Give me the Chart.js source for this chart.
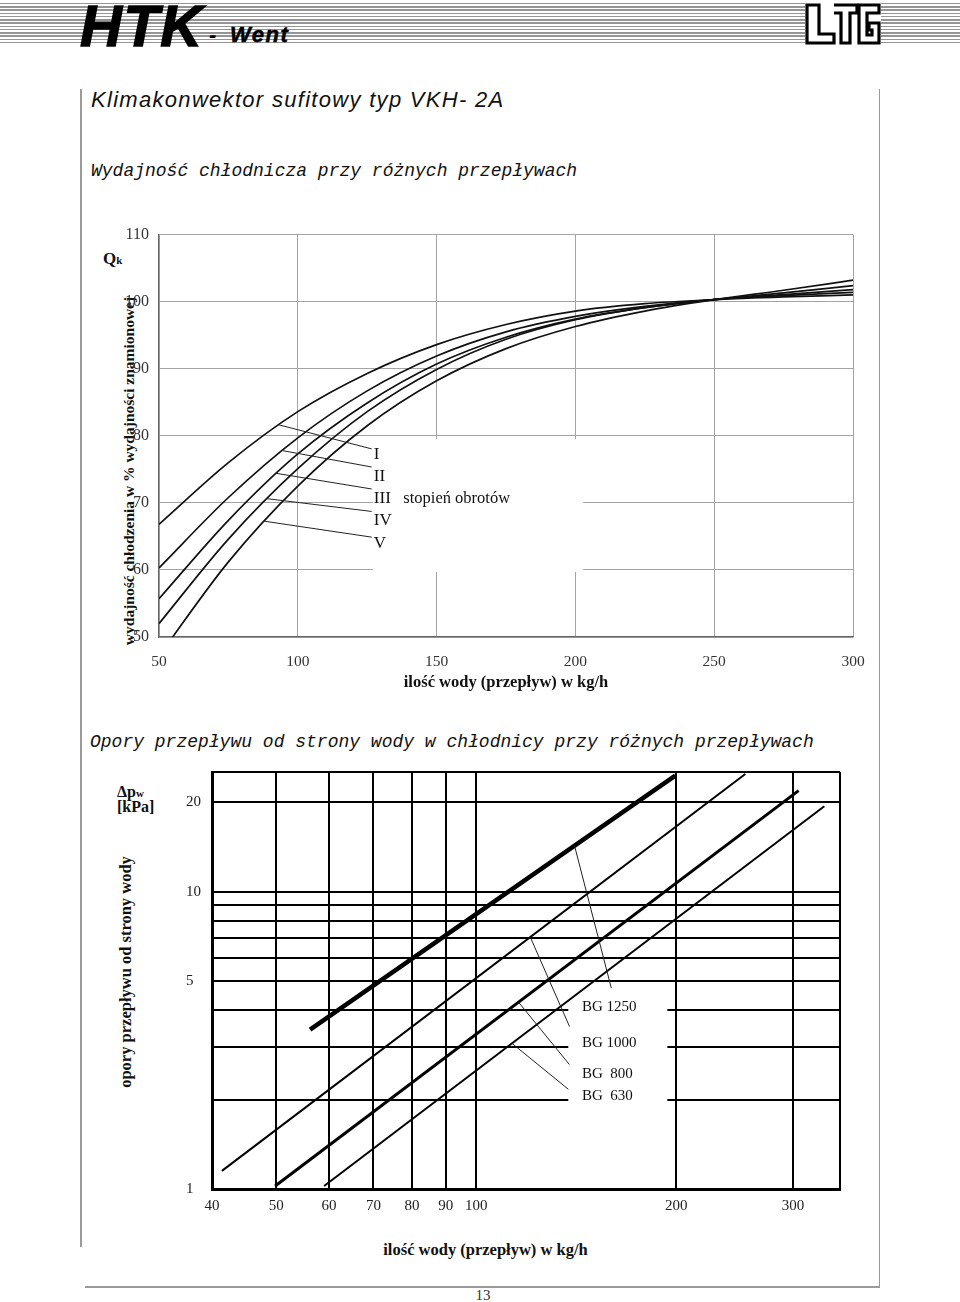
<!DOCTYPE html>
<html><head><meta charset="utf-8">
<script src="https://cdn.jsdelivr.net/npm/chart.js@4/dist/chart.umd.min.js"></script>
<style>
html,body{margin:0;padding:0;background:#fff;}
body{width:960px;height:1302px;position:relative;overflow:hidden;font-family:"Liberation Serif",serif;color:#111;}
.abs{position:absolute;white-space:nowrap;line-height:1;}
#stripes{position:absolute;left:0;top:3px;width:960px;height:42px;
 background:repeating-linear-gradient(180deg,#959595 0px,#959595 1.4px,#fff 1.4px,#fff 3.25px);}
.line{position:absolute;background:#9a9a9a;}
canvas{position:absolute;}
.rot{position:absolute;white-space:nowrap;line-height:1;transform:translate(-50%,-50%) rotate(-90deg);font-weight:bold;}
</style></head>
<body>
<div id="stripes"></div>
<div class="abs" style="left:80px;top:-8px;font:italic bold 58px 'Liberation Sans';letter-spacing:1.5px;-webkit-text-stroke:1.4px #000;color:#000;">HTK</div>
<div class="abs" style="left:209px;top:22px;font:italic bold 22px 'Liberation Sans';color:#000;">-</div>
<div class="abs" style="left:230px;top:22px;font:italic bold 22px 'Liberation Sans';letter-spacing:1.5px;-webkit-text-stroke:0.5px #000;color:#000;">Went</div>
<svg style="position:absolute;left:805px;top:3px" width="76" height="42" viewBox="0 0 76 42">
 <rect x="0" y="0" width="76" height="42" fill="#fff"/>
 <g fill="none" stroke="#000" stroke-width="3.2">
  <path d="M2,2 H14 V31 H29 V40 H2 Z"/>
  <path d="M29,2 H52 V10 H45 V40 H36 V10 H29"/>
  <path d="M54,2 H74 V10 H62 V32 H67 V27 H64 V20 H74 V40 H54 Z"/>
 </g>
</svg>

<div class="line" style="left:80px;top:89px;width:1.5px;height:1158px;"></div>
<div class="line" style="left:878.5px;top:89px;width:1.5px;height:1198px;"></div>
<div class="line" style="left:85px;top:1286px;width:795px;height:1.5px;"></div>

<div class="abs" style="left:91px;top:87.4px;font:italic 22px 'Liberation Sans';letter-spacing:1.3px;">Klimakonwektor sufitowy typ VKH- 2A</div>
<div class="abs" style="left:91px;top:161px;font:italic 18px 'Liberation Mono';">Wydajność chłodnicza przy różnych przepływach</div>
<div class="abs" style="left:90px;top:732px;font:italic 18px 'Liberation Mono';">Opory przepływu od strony wody w chłodnicy przy różnych przepływach</div>

<div class="abs" style="left:103px;top:249px;font:bold 17px 'Liberation Serif';">Q<span style="font-size:11px;">k</span></div>
<div class="rot" id="ytitle1" style="left:128.8px;top:471px;font-size:15.5px;"></div>

<div class="abs" style="left:117px;top:782.6px;font:bold 16px 'Liberation Serif';">Δp<span style="font-size:11px;">w</span></div>
<div class="abs" style="left:117px;top:797.6px;font:bold 16px 'Liberation Serif';">[kPa]</div>
<div class="rot" id="ytitle2" style="left:125.5px;top:971.5px;font-size:16.5px;"></div>
<div class="abs" id="xtitle2" style="left:485.5px;top:1239.7px;font:bold 16.5px 'Liberation Serif';transform:translateX(-50%);"></div>

<div class="abs" style="left:483px;top:1287.4px;font:15px 'Liberation Serif';transform:translateX(-50%);color:#333;">13</div>

<canvas id="c1" width="800" height="490" style="left:85px;top:215px;"></canvas>
<canvas id="c2" width="800" height="510" style="left:85px;top:755px;"></canvas>

<script>
// ---------- Chart 1 data: cooling capacity vs. water flow ----------
const flowX    = [50, 75, 100, 125, 150, 175, 200, 225, 250, 275, 300];
const stageI   = [66.8, 76.0, 83.6, 89.3, 93.6, 96.6, 98.6, 99.7, 100.3, 100.7, 101.0];
const stageII  = [60.3, 70.8, 79.7, 86.7, 91.9, 95.5, 97.8, 99.3, 100.3, 100.9, 101.4];
const stageIII = [55.7, 67.4, 77.3, 84.9, 90.7, 94.7, 97.4, 99.1, 100.3, 101.05, 101.8];
const stageIV  = [52.0, 64.6, 75.1, 83.6, 89.9, 94.4, 97.3, 99.1, 100.3, 101.3, 102.4];
const stageV   = [47.2, 61.2, 72.5, 81.5, 88.2, 93.0, 96.3, 98.6, 100.3, 101.7, 103.2];
const stageNames = ['I', 'II', 'III', 'IV', 'V'];
const stageNote = 'stopień obrotów';
const x1Ticks = [50, 100, 150, 200, 250, 300];
const y1Ticks = [50, 60, 70, 80, 90, 100, 110];
const xTitle = 'ilość wody (przepływ) w kg/h';
const yTitle1 = 'wydajność chłodzenia w % wydajności znamionowej';

// ---------- Chart 2 data: water-side pressure drop (log-log) ----------
const bgNames = ['BG 1250', 'BG 1000', 'BG  800', 'BG  630'];
const bg1250Flow = [56.2, 199.4];  const bg1250Dp = [3.44, 24.6];
const bg1000Flow = [41.4, 254.2];  const bg1000Dp = [1.151, 24.9];
const bg800Flow  = [49.8, 305.8];  const bg800Dp  = [1.023, 21.9];
const bg630Flow  = [59.0, 334.3];  const bg630Dp  = [1.023, 19.4];
const x2Ticks = [40, 50, 60, 70, 80, 90, 100, 200, 300];
const y2Grid = [1, 2, 3, 4, 5, 6, 7, 8, 9, 10, 20];
const y2Labels = [1, 5, 10, 20];
const yTitle2 = 'opory przepływu od strony wody';

document.getElementById('ytitle1').textContent = yTitle1;
document.getElementById('ytitle2').textContent = yTitle2;
document.getElementById('xtitle2').textContent = xTitle;

Chart.defaults.font.family = "'Liberation Serif', serif";
Chart.defaults.animation = false;

// ---- annotation layout (data coordinates) ----
const layout1 = {
  fromX: [93.0, 94.2, 92.1, 88.8, 87.8],
  toX: 126.6, toY: [78.05, 75.35, 72.07, 68.72, 64.89],
  textX: 127.4, textY: [76.58, 73.29, 69.94, 66.66, 63.31],
  noteX: 138.0,
  box: {x0: 127.1, x1: 202.8, y0: 79.5, y1: 59.7}
};
const layout2 = {
  fromX: [140.6, 120.6, 115.8, 113.2],
  toX: [159.7, 138.2, 138.1, 137.6], toY: [4.75, 3.52, 2.624, 2.166],
  textX: 144.3, textY: [3.972, 2.997, 2.368, 1.991],
  box: {x0: 137.6, x1: 194, y0: 4.61, y1: 1.905}
};

function curveYAt(chart, dsIndex, px) {
  const pts = chart.getDatasetMeta(dsIndex).data;
  for (let i = 0; i < pts.length - 1; i++) {
    const a = pts[i], b = pts[i + 1];
    if (px >= a.x && px <= b.x) {
      // sample the rendered bezier segment between the two points
      const c1x = a.cp2x, c1y = a.cp2y, c2x = b.cp1x, c2y = b.cp1y;
      let best = a.y, bestD = 1e9;
      for (let k = 0; k <= 200; k++) {
        const t = k / 200, u = 1 - t;
        const bx = u*u*u*a.x + 3*u*u*t*c1x + 3*u*t*t*c2x + t*t*t*b.x;
        const by = u*u*u*a.y + 3*u*u*t*c1y + 3*u*t*t*c2y + t*t*t*b.y;
        const d = Math.abs(bx - px);
        if (d < bestD) { bestD = d; best = by; }
      }
      return best;
    }
  }
  return pts[0].y;
}

const labels1Plugin = {
  id: 'labels1',
  beforeDatasetsDraw(chart) {
    const {ctx, scales: {x, y}} = chart, b = layout1.box;
    ctx.save(); ctx.fillStyle = '#fff';
    const x0 = x.getPixelForValue(b.x0), x1 = x.getPixelForValue(b.x1);
    const y0 = y.getPixelForValue(b.y0), y1 = y.getPixelForValue(b.y1);
    ctx.fillRect(x0, y0, x1 - x0, y1 - y0); ctx.restore();
  },
  afterDatasetsDraw(chart) {
    const {ctx, scales: {x, y}} = chart;
    ctx.save();
    ctx.strokeStyle = '#222'; ctx.lineWidth = 1;
    stageNames.forEach((n, i) => {
      const fx = x.getPixelForValue(layout1.fromX[i]);
      const fy = curveYAt(chart, i, fx);
      ctx.beginPath(); ctx.moveTo(fx, fy);
      ctx.lineTo(x.getPixelForValue(layout1.toX), y.getPixelForValue(layout1.toY[i])); ctx.stroke();
    });
    ctx.fillStyle = '#111'; ctx.textBaseline = 'alphabetic'; ctx.textAlign = 'left';
    ctx.font = "17px 'Liberation Serif'";
    stageNames.forEach((n, i) => ctx.fillText(n, x.getPixelForValue(layout1.textX), y.getPixelForValue(layout1.textY[i])));
    ctx.font = "16.5px 'Liberation Serif'";
    ctx.fillText(stageNote, x.getPixelForValue(layout1.noteX), y.getPixelForValue(layout1.textY[2]));
    ctx.restore();
  }
};

new Chart(document.getElementById('c1'), {
  type: 'line',
  data: {
    datasets: [stageI, stageII, stageIII, stageIV, stageV].map((vals, i) => ({
      label: stageNames[i],
      data: flowX.map((fx, j) => ({x: fx, y: vals[j]})),
      borderColor: '#111', borderWidth: 1.7, pointRadius: 0,
      cubicInterpolationMode: 'monotone', fill: false
    }))
  },
  options: {
    responsive: false, animation: false,
    layout: {padding: {left: 0, top: 15, right: 32, bottom: 0}},
    plugins: {legend: {display: false}, tooltip: {enabled: false}},
    scales: {
      x: {
        type: 'linear', min: 50, max: 300,
        afterBuildTicks: s => { s.ticks = x1Ticks.map(v => ({value: v})); },
        afterFit: s => { s.height = 68; },
        grid: {color: '#a4a4a4', lineWidth: 1, drawTicks: false},
        border: {display: true, color: '#666', width: 1.2},
        ticks: {padding: 16, color: '#333', font: {size: 15.5}, maxRotation: 0, autoSkip: false},
        title: {display: true, text: xTitle, color: '#111',
          font: {size: 16.5, weight: 'bold'}, padding: {top: 0, bottom: 12}}
      },
      y: {
        type: 'linear', min: 50, max: 110,
        afterBuildTicks: s => { s.ticks = y1Ticks.map(v => ({value: v})); },
        afterFit: s => { s.width = 74; },
        grid: {color: '#a4a4a4', lineWidth: 1, drawTicks: false},
        border: {display: true, color: '#666', width: 1.2},
        ticks: {padding: 10, color: '#333', font: {size: 16}}
      }
    }
  },
  plugins: [labels1Plugin]
});

const labels2Plugin = {
  id: 'labels2',
  beforeDatasetsDraw(chart) {
    const {ctx, scales: {x, y}} = chart, b = layout2.box;
    ctx.save(); ctx.fillStyle = '#fff';
    const x0 = x.getPixelForValue(b.x0), x1 = x.getPixelForValue(b.x1);
    const y0 = y.getPixelForValue(b.y0), y1 = y.getPixelForValue(b.y1);
    ctx.fillRect(x0, y0, x1 - x0, y1 - y0); ctx.restore();
  },
  afterDatasetsDraw(chart) {
    const {ctx, scales: {x, y}} = chart;
    const flows = [bg1250Flow, bg1000Flow, bg800Flow, bg630Flow];
    const dps = [bg1250Dp, bg1000Dp, bg800Dp, bg630Dp];
    ctx.save(); ctx.strokeStyle = '#222'; ctx.lineWidth = 1;
    bgNames.forEach((n, i) => {
      const f = flows[i], d = dps[i], fx = layout2.fromX[i];
      const t = Math.log(fx / f[0]) / Math.log(f[1] / f[0]);
      const fy = d[0] * Math.pow(d[1] / d[0], t);
      ctx.beginPath();
      ctx.moveTo(x.getPixelForValue(fx), y.getPixelForValue(fy));
      ctx.lineTo(x.getPixelForValue(layout2.toX[i]), y.getPixelForValue(layout2.toY[i]));
      ctx.stroke();
    });
    ctx.fillStyle = '#111'; ctx.textBaseline = 'alphabetic'; ctx.textAlign = 'left';
    ctx.font = "15px 'Liberation Serif'";
    bgNames.forEach((n, i) => ctx.fillText(n, x.getPixelForValue(layout2.textX), y.getPixelForValue(layout2.textY[i])));
    ctx.restore();
  }
};

const bgWidths = [4.5, 2, 3, 2];
new Chart(document.getElementById('c2'), {
  type: 'line',
  data: {
    datasets: [[bg1250Flow, bg1250Dp], [bg1000Flow, bg1000Dp], [bg800Flow, bg800Dp], [bg630Flow, bg630Dp]].map((p, i) => ({
      label: bgNames[i],
      data: p[0].map((f, j) => ({x: f, y: p[1][j]})),
      borderColor: '#000', borderWidth: bgWidths[i], pointRadius: 0, tension: 0, fill: false
    }))
  },
  options: {
    responsive: false, animation: false,
    layout: {padding: {left: 101, top: 13, right: 45, bottom: 0}},
    plugins: {legend: {display: false}, tooltip: {enabled: false}},
    scales: {
      x: {
        type: 'logarithmic', min: 40, max: 353, bounds: 'data',
        afterBuildTicks: s => { s.ticks = x2Ticks.concat([353]).map(v => ({value: v})); },
        afterFit: s => { s.height = 76; },
        grid: {color: '#000', lineWidth: 2, drawTicks: false},
        border: {display: true, color: '#000', width: 3},
        ticks: {padding: 8, color: '#222', font: {size: 15}, maxRotation: 0, autoSkip: false,
          callback: v => x2Ticks.includes(v) ? String(v) : ''}
      },
      y: {
        type: 'logarithmic', min: 1, max: 25.3, bounds: 'data',
        afterBuildTicks: s => { s.ticks = y2Grid.concat([25.3]).map(v => ({value: v})); },
        afterFit: s => { s.width = 26; },
        grid: {color: '#000', lineWidth: 2, drawTicks: false},
        border: {display: true, color: '#000', width: 3},
        ticks: {padding: 8, color: '#222', font: {size: 15}, crossAlign: 'far', autoSkip: false,
          callback: v => y2Labels.includes(v) ? String(v) : ''}
      }
    }
  },
  plugins: [labels2Plugin]
});
</script>
</body></html>
